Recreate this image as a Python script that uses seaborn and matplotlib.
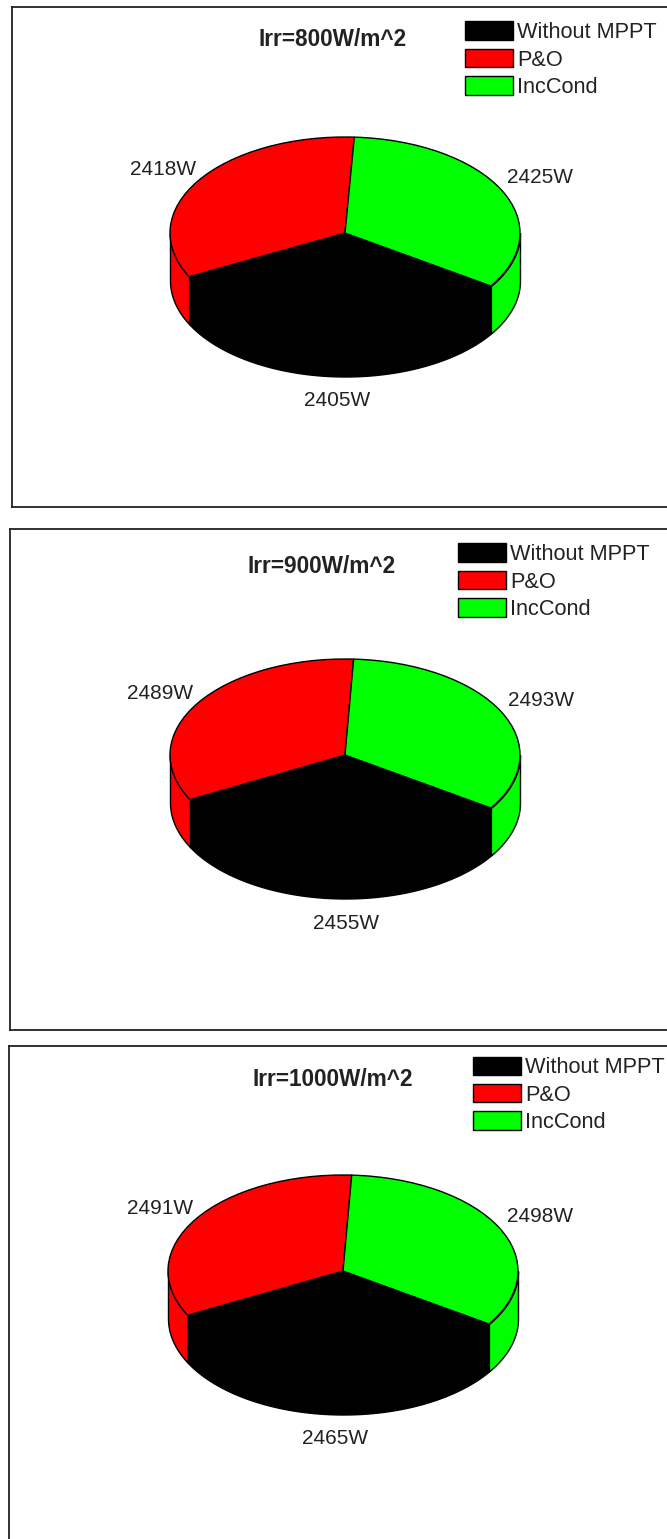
# 3D-style MPPT power pies, one panel per irradiance
import numpy as np
import matplotlib
matplotlib.use("Agg")
import matplotlib.pyplot as plt
import seaborn as sns

sns.set_theme(style="white")
plt.rcParams['font.family'] = ['Liberation Sans', 'DejaVu Sans']

methods = ["Without MPPT", "P&O", "IncCond"]
titles  = ["Irr=800W/m^2", "Irr=900W/m^2", "Irr=1000W/m^2"]
power_800  = [2405, 2418, 2425]
power_900  = [2455, 2489, 2493]
power_1000 = [2465, 2491, 2498]
all_power  = [power_800, power_900, power_1000]

colors = sns.color_palette(["#000000", "#ff0000", "#00ff00"])

W, H = 667, 1539
RX, RY, DEPTH = 175, 96, 47.5
START = 326.5

# panel layout in pixels
# (left, top, right, bottom, cx, cy, title xy, legend xy, label xy for each slice)
layout = [
    dict(box=(12, 7, 700, 507), c=(345, 233), title=(333, 39), leg=(465, 21.5),
         lab=[(337, 399), (163, 168), (540, 176)]),
    dict(box=(10, 529, 700, 1030), c=(345, 755), title=(322, 567), leg=(458, 543.5),
         lab=[(346, 922), (160, 692), (541, 699)]),
    dict(box=(9, 1046, 700, 1570), c=(343, 1271), title=(333, 1080), leg=(473, 1056.5),
         lab=[(335, 1437), (160, 1207), (540, 1215)]),
]

fig = plt.figure(figsize=(W / 100, H / 100), dpi=100)

for values, name, lay in zip(all_power, titles, layout):
    l, t, r, b = lay["box"]
    cx, cy = lay["c"]
    ax = fig.add_axes([l / W, 1 - b / H, (r - l) / W, (b - t) / H])

    wedges, _ = ax.pie(values, colors=colors, startangle=START, counterclock=False,
                       wedgeprops=dict(edgecolor="black", linewidth=1, zorder=3))

    # squash the circle into an ellipse
    ax.set_aspect("auto")
    ax.set_xlim((l - cx) / RX, (r - cx) / RX)
    ax.set_ylim((cy - b) / RY, (cy - t) / RY)
    ax.set_frame_on(True)
    for sp in ax.spines.values():
        sp.set_visible(True)
        sp.set_color("#222222")
        sp.set_linewidth(1.3)

    # side wall, only the part facing front (180..360 deg)
    angles = START - np.cumsum([0] + values) / sum(values) * 360
    for i in range(3):
        hi, lo = angles[i], angles[i + 1]
        for shift in (0, 360):
            a0 = max(lo + shift, 180)
            a1 = min(hi + shift, 360)
            if a1 <= a0:
                continue
            th = np.radians(np.linspace(a0, a1, 100))
            ax.fill_between(np.cos(th), np.sin(th), np.sin(th) - DEPTH / RY,
                            facecolor=colors[i], edgecolor="black", linewidth=1, zorder=2)

    def px(x, y):
        return (x - cx) / RX, (cy - y) / RY

    for v, (x, y) in zip(values, lay["lab"]):
        ax.text(*px(x, y + 1.5), f"{v}W", ha="center", va="center", fontsize=15, color="#222222")

    ax.text(*px(*lay["title"]), name, ha="center", va="center", fontsize=16.3,
            fontweight="bold", color="#222222")

    ax.legend(wedges, methods, loc="upper left", bbox_to_anchor=px(*lay["leg"]),
              bbox_transform=ax.transData, frameon=False, borderpad=0, borderaxespad=0,
              fontsize=15.7, handlelength=2.2, handleheight=0.9, handletextpad=0.2,
              labelspacing=0.27, labelcolor="#222222")

plt.savefig("out.png", dpi=100)
plt.close()
